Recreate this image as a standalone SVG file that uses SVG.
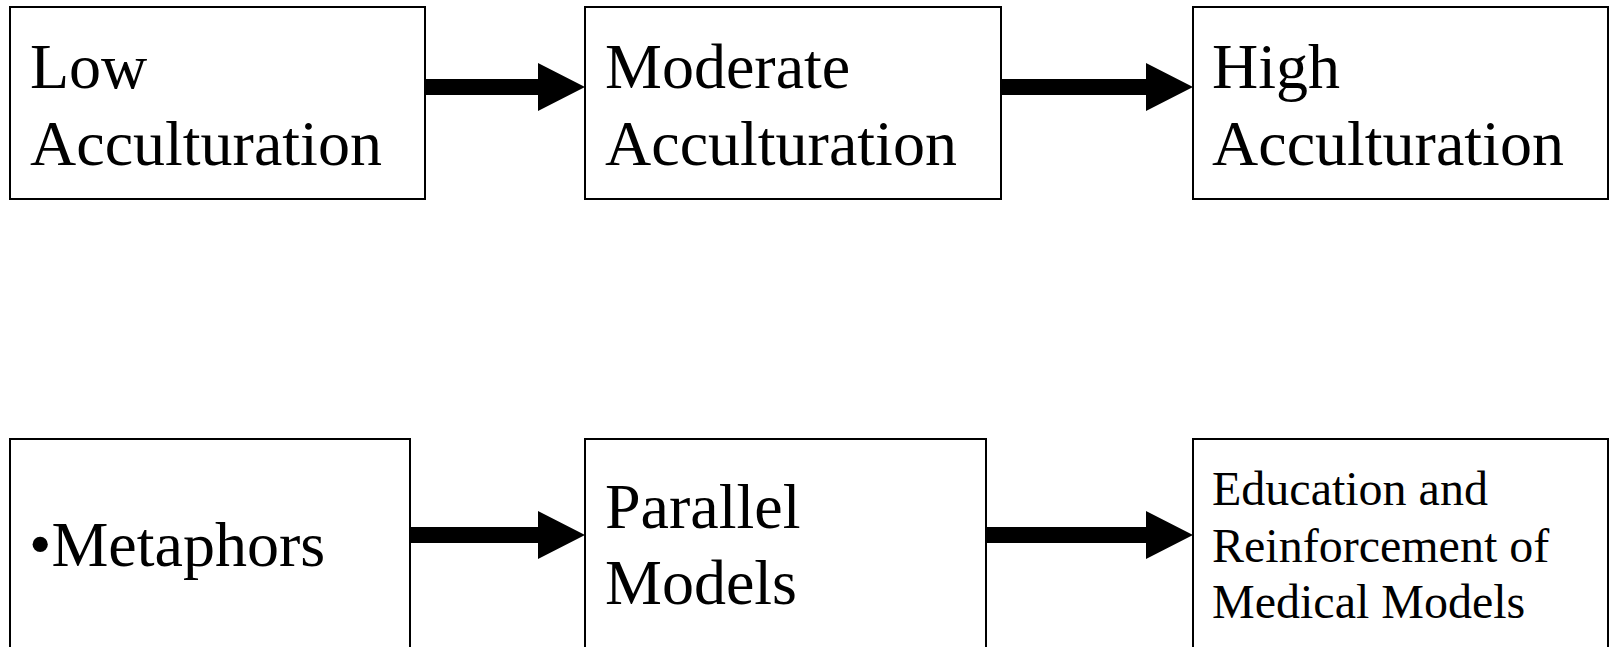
<svg xmlns="http://www.w3.org/2000/svg" width="1610" height="647" viewBox="0 0 1610 647">
<style>
.box{fill:#fff;stroke:#000;stroke-width:2}
.t{font-family:"Liberation Serif","Times New Roman",serif;font-size:64px;fill:#000}
.s{font-family:"Liberation Serif","Times New Roman",serif;font-size:48px;fill:#000}
.arr{fill:#000;stroke:none}
</style>
<rect width="1610" height="647" fill="#fff"/>
<g id="connectors">
<polygon class="arr" points="425,79 538,79 538,63 585,87 538,111 538,95 425,95"/>
<polygon class="arr" points="1001,79 1146,79 1146,63 1193,87 1146,111 1146,95 1001,95"/>
<polygon class="arr" points="410,527 538,527 538,511 585,535 538,559 538,543 410,543"/>
<polygon class="arr" points="986,527 1146,527 1146,511 1193,535 1146,559 1146,543 986,543"/>
</g>
<g id="low">
<rect class="box" x="10" y="7" width="415" height="192"/>
<text class="t" x="30" y="88">Low</text>
<text class="t" x="30" y="165">Acculturation</text>
</g>
<g id="moderate">
<rect class="box" x="585" y="7" width="416" height="192"/>
<text class="t" x="605" y="88">Moderate</text>
<text class="t" x="605" y="165">Acculturation</text>
</g>
<g id="high">
<rect class="box" x="1193" y="7" width="415" height="192"/>
<text class="t" x="1212" y="88">High</text>
<text class="t" x="1212" y="165">Acculturation</text>
</g>
<g id="metaphors">
<rect class="box" x="10" y="439" width="400" height="212"/>
<text class="t" x="29" y="566">•Metaphors</text>
</g>
<g id="parallel">
<rect class="box" x="585" y="439" width="401" height="212"/>
<text class="t" x="605" y="528">Parallel</text>
<text class="t" x="605" y="604">Models</text>
</g>
<g id="education">
<rect class="box" x="1193" y="439" width="415" height="212"/>
<text class="s" x="1212" y="505">Education and</text>
<text class="s" x="1212" y="562">Reinforcement of</text>
<text class="s" x="1212" y="618">Medical Models</text>
</g>
</svg>
